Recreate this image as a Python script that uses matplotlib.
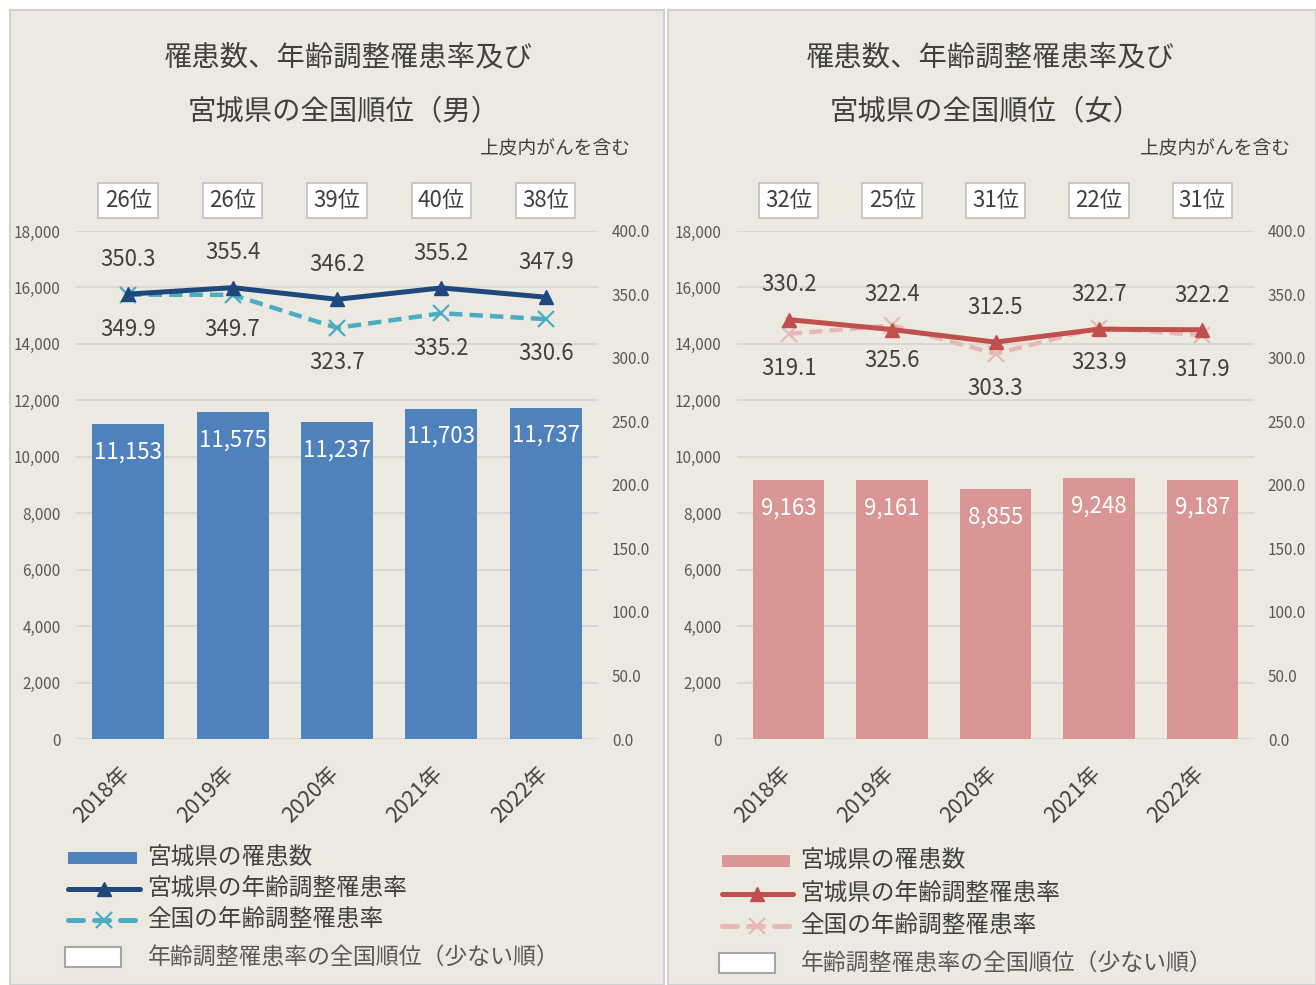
import matplotlib.pyplot as plt
from matplotlib.patches import Rectangle
from matplotlib.lines import Line2D
from matplotlib.ticker import FuncFormatter
from matplotlib.transforms import ScaledTranslation

plt.rcParams['font.family'] = ['Noto Sans CJK JP', 'DejaVu Sans']

years = ['2018年', '2019年', '2020年', '2021年', '2022年']

male_counts = [11153, 11575, 11237, 11703, 11737]
male_rate = [350.3, 355.4, 346.2, 355.2, 347.9]
male_rate_japan = [349.9, 349.7, 323.7, 335.2, 330.6]
male_rank = [26, 26, 39, 40, 38]

female_counts = [9163, 9161, 8855, 9248, 9187]
female_rate = [330.2, 322.4, 312.5, 322.7, 322.2]
female_rate_japan = [319.1, 325.6, 303.3, 323.9, 317.9]
female_rank = [32, 25, 31, 22, 31]

legend_labels = ['宮城県の罹患数', '宮城県の年齢調整罹患率', '全国の年齢調整罹患率',
                 '年齢調整罹患率の全国順位（少ない順）']

W, H = 1316, 985
BG = '#ECEAE0'
TXT = '#404040'
TICK = '#595959'


def fx(x):
	return x / W


def fy(y):
	return 1 - y / H


def draw_panel(fig, px0, px1, title_x, note_x, ax_left, ax_right, title, counts, rate, rate_japan,
               rank, bar_col, line_col, dash_col, leg_x, leg_rows):
	fig.patches.append(Rectangle((fx(px0), 0), fx(px1 - px0), 975 / H, transform=fig.transFigure,
	                             fc=BG, ec='#D0D0D0', lw=1.5, zorder=-5))
	fig.text(fx(title_x), fy(57), '罹患数、年齢調整罹患率及び', ha='center', va='center', fontsize=20.4,
	         color=TXT)
	fig.text(fx(title_x - 4), fy(111), title, ha='center', va='center', fontsize=20.4, color=TXT)
	fig.text(fx(note_x), fy(149), '上皮内がんを含む', ha='right', va='center', fontsize=13.5, color=TXT)

	ax = fig.add_axes([fx(ax_left), fy(739), fx(ax_right - ax_left), 508 / H])
	ax.set_facecolor('none')
	x = list(range(len(years)))
	ax.bar(x, counts, width=0.69, color=bar_col, zorder=2)
	ax.set_xlim(-0.5, 4.5)
	ax.set_ylim(0, 18000)
	ax.set_yticks(range(0, 18001, 2000))
	ax.yaxis.set_major_formatter(FuncFormatter(lambda v, p: f'{int(v):,}'))
	ax.grid(axis='y', color='#D6D6D6', lw=1.3, zorder=0)
	ax.set_axisbelow(True)
	for s in ax.spines.values():
		s.set_visible(False)
	ax.tick_params(axis='y', length=0, pad=11, labelsize=11, labelcolor=TICK)
	ax.set_xticks(x)
	ax.set_xticklabels(years, rotation=45, ha='right', fontsize=15.5, color=TXT)
	ax.tick_params(axis='x', length=0, pad=17)
	shift = ScaledTranslation(6 / 100, 0, fig.dpi_scale_trans)
	for lab in ax.get_xticklabels():
		lab.set_transform(lab.get_transform() + shift)
	for i, c in enumerate(counts):
		ax.annotate(f'{c:,}', (i, c), xytext=(0, -20), textcoords='offset points',
		            ha='center', va='center', fontsize=16, color='white', zorder=3)
	for i, r in enumerate(rank):
		ax.text(i, 1.06, f'{r}位', transform=ax.get_xaxis_transform(), ha='center', va='center',
		        fontsize=16, color=TXT,
		        bbox=dict(boxstyle='square,pad=0.28', fc='white', ec='#BFBFBF', lw=1.2))

	ax2 = ax.twinx()
	ax2.set_ylim(0, 400)
	ax2.set_yticks(range(0, 401, 50))
	ax2.yaxis.set_major_formatter(FuncFormatter(lambda v, p: f'{v:.1f}'))
	for s in ax2.spines.values():
		s.set_visible(False)
	ax2.tick_params(axis='y', length=0, pad=10, labelsize=11, labelcolor=TICK)
	ax2.plot(x, rate_japan, color=dash_col, lw=3.2, dashes=(3, 1.6), marker='x', ms=12, mew=1.6,
	         zorder=3)
	ax2.plot(x, rate, color=line_col, lw=3.6, marker='^', ms=10, zorder=4)
	for i in x:
		ax2.annotate(f'{rate[i]:.1f}', (i, rate[i]), xytext=(0, 25), textcoords='offset points',
		             ha='center', va='center', fontsize=16, color=TXT)
		ax2.annotate(f'{rate_japan[i]:.1f}', (i, rate_japan[i]), xytext=(0, -25),
		             textcoords='offset points', ha='center', va='center', fontsize=16, color=TXT)

	# legend drawn by hand
	h0, h1 = leg_x
	tx = h1 + 10
	y0, y1, y2, y3 = leg_rows
	fig.patches.append(Rectangle((fx(h0), fy(y0 + 6)), fx(h1 - h0), 12 / H, transform=fig.transFigure,
	                             fc=bar_col, ec='none'))
	fig.add_artist(Line2D([fx(h0), fx(h1 + 3)], [fy(y1), fy(y1)], transform=fig.transFigure,
	                      color=line_col, lw=3.6, solid_capstyle='round'))
	fig.add_artist(Line2D([fx((h0 + h1) / 2 + 1)], [fy(y1)], transform=fig.transFigure,
	                      color=line_col, marker='^', ms=10, lw=0))
	fig.add_artist(Line2D([fx(h0), fx(h1 + 3)], [fy(y2), fy(y2)], transform=fig.transFigure,
	                      color=dash_col, lw=3.6, dashes=(3, 2.2), dash_capstyle='round'))
	fig.add_artist(Line2D([fx((h0 + h1) / 2 + 1)], [fy(y2)], transform=fig.transFigure,
	                      color=dash_col, marker='x', ms=12, mew=1.6, lw=0))
	fig.patches.append(Rectangle((fx(h0 - 3), fy(y3 + 10)), fx(56), 20 / H, transform=fig.transFigure,
	                             fc='white', ec='#A6A6A6', lw=1.5))
	for lab, yy in zip(legend_labels[:3], [y0, y1, y2]):
		fig.text(fx(tx), fy(yy), lab, ha='left', va='center', fontsize=17, color=TXT)
	fig.text(fx(tx + 1), fy(y3), legend_labels[3], ha='left', va='center', fontsize=16.5, color=TICK)


fig = plt.figure(figsize=(W / 100, H / 100), dpi=100)
fig.patch.set_facecolor('white')

draw_panel(fig, 10, 664, 348, 630, 76, 598, '宮城県の全国順位（男）', male_counts, male_rate,
           male_rate_japan, male_rank, '#4F81BD', '#1F497D', '#4BACC6', (68, 137),
           (858, 889, 920, 957))
draw_panel(fig, 668, 1316, 990, 1290, 737, 1254, '宮城県の全国順位（女）', female_counts, female_rate,
           female_rate_japan, female_rank, '#DA9694', '#C0504D', '#E6B9B8', (722, 790),
           (861, 894, 926, 963))

fig.savefig('out.png', dpi=100, facecolor='white')
